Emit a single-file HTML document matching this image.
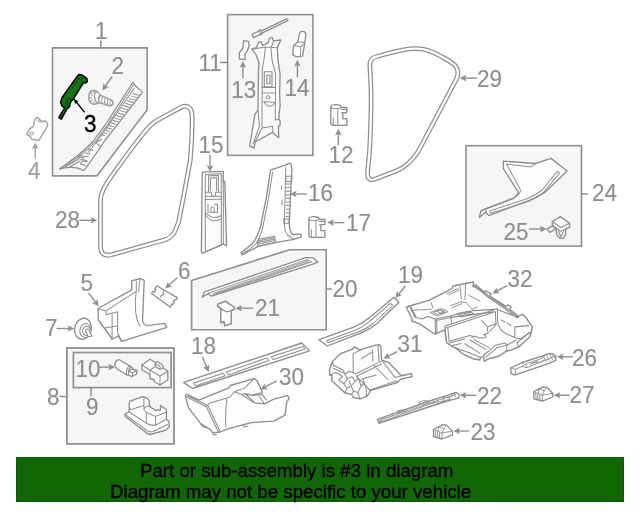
<!DOCTYPE html>
<html><head><meta charset="utf-8"><title>Diagram</title>
<style>
html,body{margin:0;padding:0;background:#fff;}
body{width:640px;height:512px;overflow:hidden;position:relative;font-family:"Liberation Sans",sans-serif;}
svg{position:absolute;left:0;top:0;will-change:transform;}
svg text{font-family:"Liberation Sans",sans-serif;}
.banner{position:absolute;left:16px;top:456.8px;width:608px;height:45px;background:#116706;box-shadow:inset 0 0 0 1px #0c5c04;}
.banner div{position:absolute;will-change:transform;white-space:nowrap;font-size:18.68px;line-height:20.5px;color:#000;-webkit-text-stroke:0.35px #000;}
</style></head><body>
<svg width="640" height="512" viewBox="0 0 640 512" fill="none" stroke-linejoin="round" stroke-linecap="round">
<path d="M52.5 47.9L147.1 47.9L147.1 110L96.8 175.9L52.5 175.9Z" fill="#f6f6f6" stroke="#909090" stroke-width="1.6" stroke-linejoin="miter"/>
<rect x="227.6" y="14.6" width="85.29999999999998" height="140.8" fill="#f6f6f6" stroke="#909090" stroke-width="1.6" stroke-linejoin="miter"/>
<rect x="466" y="145.7" width="115.5" height="100.4" fill="#f6f6f6" stroke="#909090" stroke-width="1.6" stroke-linejoin="miter"/>
<path d="M191.6 280.5L289.5 249.8L326.2 249.8L326.2 329.7L191.6 329.7Z" fill="#f6f6f6" stroke="#909090" stroke-width="1.6" stroke-linejoin="miter"/>
<rect x="66.9" y="348" width="107.1" height="95.89999999999998" fill="#f6f6f6" stroke="#909090" stroke-width="1.8" stroke-linejoin="miter"/>
<rect x="73.4" y="352.5" width="97.69999999999999" height="35.10000000000002" fill="#f6f6f6" stroke="#909090" stroke-width="1.7" stroke-linejoin="miter"/>
<text transform="translate(94.90 39.15) scale(1 1.03)" fill="#8e8e8e" stroke="#8e8e8e" stroke-width="0.15" font-size="22.5">1</text>
<text transform="translate(111.50 74.35) scale(1 1.03)" fill="#8e8e8e" stroke="#8e8e8e" stroke-width="0.15" font-size="22.5">2</text>
<text transform="translate(84.00 131.85) scale(1 1.03)" fill="#000" stroke="#000" stroke-width="0.4" font-size="22.5">3</text>
<text transform="translate(28.00 179.35) scale(1 1.03)" fill="#a0a0a0" stroke="#a0a0a0" stroke-width="0.15" font-size="22.5">4</text>
<text transform="translate(198.50 70.55) scale(1 1.03)" fill="#8e8e8e" stroke="#8e8e8e" stroke-width="0.15" font-size="22.5">11</text>
<text transform="translate(231.20 97.75) scale(1 1.03)" fill="#8e8e8e" stroke="#8e8e8e" stroke-width="0.15" font-size="22.5">13</text>
<text transform="translate(284.50 96.05) scale(1 1.03)" fill="#8e8e8e" stroke="#8e8e8e" stroke-width="0.15" font-size="22.5">14</text>
<text transform="translate(328.50 162.85) scale(1 1.03)" fill="#8e8e8e" stroke="#8e8e8e" stroke-width="0.15" font-size="22.5">12</text>
<text transform="translate(198.50 152.55) scale(1 1.03)" fill="#8e8e8e" stroke="#8e8e8e" stroke-width="0.15" font-size="22.5">15</text>
<text transform="translate(308.00 201.35) scale(1 1.03)" fill="#8e8e8e" stroke="#8e8e8e" stroke-width="0.15" font-size="22.5">16</text>
<text transform="translate(346.00 231.05) scale(1 1.03)" fill="#8e8e8e" stroke="#8e8e8e" stroke-width="0.15" font-size="22.5">17</text>
<text transform="translate(477.00 87.15) scale(1 1.03)" fill="#8e8e8e" stroke="#8e8e8e" stroke-width="0.15" font-size="22.5">29</text>
<text transform="translate(592.00 201.05) scale(1 1.03)" fill="#8e8e8e" stroke="#8e8e8e" stroke-width="0.15" font-size="22.5">24</text>
<text transform="translate(503.50 240.35) scale(1 1.03)" fill="#8e8e8e" stroke="#8e8e8e" stroke-width="0.15" font-size="22.5">25</text>
<text transform="translate(55.00 228.35) scale(1 1.03)" fill="#8e8e8e" stroke="#8e8e8e" stroke-width="0.15" font-size="22.5">28</text>
<text transform="translate(80.50 290.85) scale(1 1.03)" fill="#8e8e8e" stroke="#8e8e8e" stroke-width="0.15" font-size="22.5">5</text>
<text transform="translate(178.00 278.55) scale(1 1.03)" fill="#8e8e8e" stroke="#8e8e8e" stroke-width="0.15" font-size="22.5">6</text>
<text transform="translate(45.00 336.35) scale(1 1.03)" fill="#8e8e8e" stroke="#8e8e8e" stroke-width="0.15" font-size="22.5">7</text>
<text transform="translate(75.50 376.55) scale(1 1.03)" fill="#8e8e8e" stroke="#8e8e8e" stroke-width="0.15" font-size="22.5">10</text>
<text transform="translate(47.00 404.55) scale(1 1.03)" fill="#8e8e8e" stroke="#8e8e8e" stroke-width="0.15" font-size="22.5">8</text>
<text transform="translate(86.00 415.35) scale(1 1.03)" fill="#8e8e8e" stroke="#8e8e8e" stroke-width="0.15" font-size="22.5">9</text>
<text transform="translate(191.00 354.05) scale(1 1.03)" fill="#8e8e8e" stroke="#8e8e8e" stroke-width="0.15" font-size="22.5">18</text>
<text transform="translate(279.00 385.35) scale(1 1.03)" fill="#8e8e8e" stroke="#8e8e8e" stroke-width="0.15" font-size="22.5">30</text>
<text transform="translate(332.50 296.85) scale(1 1.03)" fill="#8e8e8e" stroke="#8e8e8e" stroke-width="0.15" font-size="22.5">20</text>
<text transform="translate(398.00 283.05) scale(1 1.03)" fill="#8e8e8e" stroke="#8e8e8e" stroke-width="0.15" font-size="22.5">19</text>
<text transform="translate(397.50 351.85) scale(1 1.03)" fill="#8e8e8e" stroke="#8e8e8e" stroke-width="0.15" font-size="22.5">31</text>
<text transform="translate(255.00 316.05) scale(1 1.03)" fill="#8e8e8e" stroke="#8e8e8e" stroke-width="0.15" font-size="22.5">21</text>
<text transform="translate(507.50 286.55) scale(1 1.03)" fill="#8e8e8e" stroke="#8e8e8e" stroke-width="0.15" font-size="22.5">32</text>
<text transform="translate(572.00 365.85) scale(1 1.03)" fill="#8e8e8e" stroke="#8e8e8e" stroke-width="0.15" font-size="22.5">26</text>
<text transform="translate(569.50 403.35) scale(1 1.03)" fill="#8e8e8e" stroke="#8e8e8e" stroke-width="0.15" font-size="22.5">27</text>
<text transform="translate(477.00 404.35) scale(1 1.03)" fill="#8e8e8e" stroke="#8e8e8e" stroke-width="0.15" font-size="22.5">22</text>
<text transform="translate(470.50 440.05) scale(1 1.03)" fill="#8e8e8e" stroke="#8e8e8e" stroke-width="0.15" font-size="22.5">23</text>
<path d="M79.4 74.4L82.5 75.3L86.8 78.3L87.3 81.8L85.2 82.9L83 83.3L73.3 99L70.3 102.6L69.5 106.6L67 109L61.3 119.1L58.8 117.6L64.6 108L62 105.9L60.6 102.4L61.8 98L76.9 76.6Z" fill="#157515" stroke="#000" stroke-width="1.5"/>
<path d="M78.5 78.5L81.5 79.8L83 83.3M81.5 79.8L82.7 76.2M78.5 78.5L72.5 87.5M67.6 108.2L67.2 101.5Q66.5 98.5 69 98Q71.5 98 70.3 102.6M64.6 108L66.2 101" stroke="#053805" stroke-width="0.9"/>
<path d="M84.6 112.4L76.2 101.9" stroke="#000" stroke-width="1.5" fill="none" stroke-linecap="butt"/>
<path d="M73.6 98.6L78.9 101.4L76.2 101.9L75.2 104.4Z" fill="#000"/>
<path d="M112.1 76.5L105.4 86.1" stroke="#8e8e8e" stroke-width="1.4" fill="none" stroke-linecap="butt"/>
<path d="M102.3 90.4L103.4 83.1L105.4 86.1L108.8 86.9Z" fill="#8e8e8e"/>
<path d="M89.2 93.5Q91 89.8 94.5 90.6L97 91.5L98 95.5L97.5 103.5L93.5 104.2Q89.5 103.5 88.8 99Z" stroke="#a0a0a0" stroke-width="1.57" fill="#fff"/>
<path d="M90.8 92L92.2 95.5M93.8 90.6L94.4 94M89 97L91.6 98M90 101.8L92.2 100.2M93.6 104L94.2 101" stroke="#a0a0a0" stroke-width="1.12" fill="none"/>
<ellipse cx="97.8" cy="97.6" rx="3.1" ry="5.6" transform="rotate(-14 97.8 97.6)" fill="#fff" stroke="#a0a0a0" stroke-width="1.4"/>
<path d="M99.8 95L110.6 99.6Q113.8 101.3 112.8 103.9Q111.8 106.2 108.5 105.4L99 102.6Q97.6 98.6 99.8 95Z" stroke="#a0a0a0" stroke-width="1.57" fill="#fff"/>
<path d="M102.6 96.6Q101.3 99.8 101.9 103.2M105.4 97.8Q104.1 101 104.7 104.1M108.1 99Q106.9 102 107.5 104.9M110.6 100.3Q109.7 103 110.2 105.4" stroke="#a0a0a0" stroke-width="1.12" fill="none"/>
<path d="M59.5 169.1L77 156Q87 148 93.3 141L107 122.3L132.1 83.5L133 82.3Q135 86.5 142.6 92L141.9 93.2L104.5 141L97 152.3L84.6 169.8L83.2 170.3Q78 167 70 167.3Q64 167.6 59.5 169.1Z" stroke="#8d8d8d" stroke-width="1.23" fill="#fbfbfb"/>
<path d="M62.5 168.3L79 156.5Q88.5 149 94.8 142L108.5 123.5L133.6 84.8" stroke="#8d8d8d" stroke-width="1.01" fill="none"/>
<path d="M134.2 88.3L102.8 133.5L96 142.5L88.5 152" stroke="#8d8d8d" stroke-width="1.01" fill="none"/>
<path d="M140.2 95.2Q136.7 95.0 133.2 93.5M138.2 97.6Q134.7 97.4 131.3 95.9M136.1 100.1Q132.8 99.9 129.5 98.4M134.1 102.5Q130.9 102.3 127.7 100.8M132.0 104.9Q128.9 104.7 125.8 103.2M130.0 107.3Q127.0 107.1 124.0 105.7M127.9 109.7Q125.0 109.5 122.2 108.1M125.9 112.1Q123.1 111.9 120.3 110.6M123.9 114.5Q121.2 114.3 118.5 113.0M121.8 116.9Q119.2 116.7 116.7 115.5M119.8 119.3Q117.3 119.1 114.8 117.9M117.7 121.7Q115.4 121.5 113.0 120.3M115.7 124.1Q113.4 123.9 111.2 122.8M113.6 126.6Q111.5 126.4 109.3 125.2M111.6 129.0Q109.5 128.8 107.5 127.7M109.5 131.4Q107.6 131.2 105.7 130.1M107.5 133.8Q105.7 133.6 103.8 132.6" stroke="#8d8d8d" stroke-width="1.01" fill="none"/>
<path d="M104.5 135.5L100.5 134.5M101.5 139.5L96 142.5M96 142.5Q97.5 145 100.5 146M93 150.5L88.5 149.5M90.5 154L85.5 153M88.5 157L79.5 155.5L78.5 158.5L86.5 160.5M80 157L84 158M87.5 161.5L82 161L80.5 164L85.5 165.5M66 166.5L78 159.5M70 166.8L80 161" stroke="#8d8d8d" stroke-width="1.01" fill="none"/>
<path d="M36.2 117.8Q37.5 117.3 38.5 118.3L41.8 121.6L45.1 121.1Q46.8 121.5 47.7 125.3L38.8 140.6L31.5 138.9L30.1 136.3L27.1 134.8Q26.8 133 27.7 131.9L30.5 128.2L33.3 126.7L34.3 121.1Z" stroke="#a8a8a8" stroke-width="1.57" fill="#fff"/>
<ellipse cx="31.6" cy="133.4" rx="2" ry="1.4" stroke="#a8a8a8" stroke-width="1.1" fill="#fff"/>
<path d="M38.3 119.5Q37.8 121.8 40.6 121.9" stroke="#a8a8a8" stroke-width="1.12" fill="none"/>
<path d="M35.2 158.5L35.2 147.7" stroke="#a0a0a0" stroke-width="1.4" fill="none" stroke-linecap="butt"/>
<path d="M35.2 142.4L38.5 149.0L35.2 147.7L31.9 149.0Z" fill="#a0a0a0"/>
<path d="M100.9 41L100.9 47.9" stroke="#8e8e8e" stroke-width="1.57" fill="none"/>
<path d="M220.5 62.6L227 62.6" stroke="#8e8e8e" stroke-width="1.46" fill="none"/>
<path d="M582 194L587.5 194" stroke="#8e8e8e" stroke-width="1.46" fill="none"/>
<path d="M327 289L331.5 289" stroke="#8e8e8e" stroke-width="1.46" fill="none"/>
<path d="M60 396.5L66.8 396.5" stroke="#8e8e8e" stroke-width="1.46" fill="none"/>
<path d="M91 388L91 396" stroke="#8e8e8e" stroke-width="1.46" fill="none"/>
<path d="M100.5 200L100.5 246Q100.5 256.8 110.5 255L163 240.3Q172.5 238 175.7 229.5L178.7 221.5Q185 190 190.3 160Q192 140 192.2 122L192.2 118Q192.2 111.5 190 108.5Q186.5 104.5 181 107.3L156 121Q150 125 144 132.7Q133 146 111.8 175.8Q100.5 191 100.5 200Z" stroke="#8f8f8f" stroke-width="4.8" fill="none"/>
<path d="M100.5 200L100.5 246Q100.5 256.8 110.5 255L163 240.3Q172.5 238 175.7 229.5L178.7 221.5Q185 190 190.3 160Q192 140 192.2 122L192.2 118Q192.2 111.5 190 108.5Q186.5 104.5 181 107.3L156 121Q150 125 144 132.7Q133 146 111.8 175.8Q100.5 191 100.5 200Z" stroke="#fff" stroke-width="2.3" fill="none"/>
<path d="M369.9 66Q371.3 90 371.1 105Q370.7 130 369.6 150L367.6 172Q367 181.5 374 179.5L396 171Q409 166 418.5 151L443 104.5L456 79.8Q458.4 75 457.8 71.6Q457.2 67.5 454.5 64.8Q449 60.5 442.3 57Q432 51 424 49.3Q418 48.3 413 48.6Q400 49.5 377 56.5Q369.3 58 369.9 66Z" stroke="#8f8f8f" stroke-width="4.8" fill="none"/>
<path d="M369.9 66Q371.3 90 371.1 105Q370.7 130 369.6 150L367.6 172Q367 181.5 374 179.5L396 171Q409 166 418.5 151L443 104.5L456 79.8Q458.4 75 457.8 71.6Q457.2 67.5 454.5 64.8Q449 60.5 442.3 57Q432 51 424 49.3Q418 48.3 413 48.6Q400 49.5 377 56.5Q369.3 58 369.9 66Z" stroke="#fff" stroke-width="2.3" fill="none"/>
<path d="M79.3 220.3L91.9 220.3" stroke="#8e8e8e" stroke-width="1.4" fill="none" stroke-linecap="butt"/>
<path d="M97.2 220.3L90.6 223.6L91.9 220.3L90.6 217.0Z" fill="#8e8e8e"/>
<path d="M477.0 78.1L465.0 78.1" stroke="#8e8e8e" stroke-width="1.4" fill="none" stroke-linecap="butt"/>
<path d="M459.7 78.1L466.3 74.8L465.0 78.1L466.3 81.4Z" fill="#8e8e8e"/>
<path d="M253.4 37.6L252 34.4L258.4 31.4L259.2 30.4L260.8 30L261.6 30.8L286.6 18.9L287.9 20.7L262.4 32.9L262.1 34L260.5 34.8L259.6 34.6Z" stroke="#8d8d8d" stroke-width="1.34" fill="#fff"/>
<path d="M259.2 30.6L260.4 34.6M260.8 30.2L262 33.8" stroke="#8d8d8d" stroke-width="1.01" fill="none"/>
<path d="M243.6 40.7L248.5 41.4L249.2 45.6L247.1 51.3L245 54.1L245 59.7L239.4 59L239.4 52.7L242.9 48.5Z" stroke="#8d8d8d" stroke-width="1.34" fill="#fff"/>
<path d="M242.9 78.0L242.9 66.5" stroke="#8e8e8e" stroke-width="1.4" fill="none" stroke-linecap="butt"/>
<path d="M242.9 61.2L246.2 67.8L242.9 66.5L239.6 67.8Z" fill="#8e8e8e"/>
<path d="M299.8 32.3Q302 30.8 304 31.6Q306.2 33 305.9 35.1L302.6 56.2L296.3 56.9L292.8 54.8L293.5 45.6L297.7 42.1Z" stroke="#8d8d8d" stroke-width="1.34" fill="#fff"/>
<path d="M293.5 45.6L300.8 46.8L304 43.5M300.8 46.8L300.3 56.4M297.7 42.1L304.3 42.3" stroke="#8d8d8d" stroke-width="1.01" fill="none"/>
<path d="M297.4 77.3L297.4 65.1" stroke="#8e8e8e" stroke-width="1.4" fill="none" stroke-linecap="butt"/>
<path d="M297.4 59.8L300.7 66.4L297.4 65.1L294.1 66.4Z" fill="#8e8e8e"/>
<path d="M252 49.2L256.6 47.3L258.4 42.3L261 41.6L262.6 45.4L267.8 43.2L269.6 38.1L272.2 37.4L273.6 40.9L280.8 40L277.3 47.8L278 60.4L280.1 74.5L279.6 92.9L280.1 105.2L278.7 119.2L280.1 121L280.1 125.4L278.4 126.2L278.7 137.7L272.6 132.4L255 142L254.1 148.2L249.7 145.6L255 114L258 110.4L258.5 70L259 63.2L256.2 54.8Z" stroke="#8d8d8d" stroke-width="1.34" fill="#fafafa"/>
<path d="M265.4 47L264.2 58L262.2 70L262 128L272.6 126.2L272.6 132.4M262 128L255 142M273.8 40.7L271 48L272 60L275.6 74L275.2 120L278.7 119.2M252 49.2L265.4 47L277.3 47.8M262 87.6L275.2 87.6M263.8 101.6Q269 110.5 275.2 102.5M263.8 101.6L275.2 102.5M262 93L275.4 93M258 110.4L259.5 126L253 144" stroke="#8d8d8d" stroke-width="1.01" fill="none"/>
<path d="M264.3 71.7L272 71.7L272 86.7L264.3 86.7ZM266.8 75L270 75L270 83.7L266.8 83.7Z" stroke="#8d8d8d" stroke-width="1.12" fill="none"/>
<circle cx="268.2" cy="97.2" r="1.7" stroke="#8d8d8d" stroke-width="0.9" fill="none"/>
<path d="M202.2 172.1L223.3 171.3L223.3 181.5L224.8 181.5L226.6 246L223.3 244L202.2 253.4L201.4 251.8Z" stroke="#8d8d8d" stroke-width="1.34" fill="#fbfbfb"/>
<path d="M223.3 181.5L223.3 244M205.3 174.6L221.3 173.7L221.3 245.2L205.3 251.8ZM208.6 175.8L218.4 175.5L218.4 192.2L215.6 192.2L215.6 196L211.4 196L211.4 192.2L208.6 192.2ZM210.4 178L216.6 177.8L216.6 190.5M210.4 178L210.4 190.5M205.3 192.2L208.6 192.2M218.4 192.2L221.3 192.2M205.3 196.5L221.3 196M205.3 199.5L221.3 199M205.3 214.7Q212 224.5 221.3 218.6M205.3 212Q212 221 221.3 215.5M208 204L208 212L217.5 212.5L217.5 204M211 212L211 207.5Q213 206 214.2 208L214.2 212M214.5 205Q216 203 217.3 205" stroke="#8d8d8d" stroke-width="1.01" fill="none"/>
<path d="M210.0 155.0L210.0 166.5" stroke="#8e8e8e" stroke-width="1.4" fill="none" stroke-linecap="butt"/>
<path d="M210.0 171.8L206.7 165.2L210.0 166.5L213.3 165.2Z" fill="#8e8e8e"/>
<path d="M270.5 170.2L290.8 163.1L291.9 168.2L289.2 223Q289.5 231 292.5 234.3L301 234.2L301.4 236.8L293.9 239.3L276.6 242.3L258.3 246.4L242.1 254.9L241.1 252.5Q250 246.5 254.3 241.3Q258 235 260.4 227.1L266.5 196.6Z" stroke="#8d8d8d" stroke-width="1.34" fill="#fdfdfd"/>
<path d="M272.6 172.3L268.5 198.7L262.4 229.1Q260 237.5 256.3 243.3Q250 250 242.5 253.8M285.8 167.2L284.3 225Q285 231.5 287.5 235L293.9 239.3M258.3 239.3L274.6 236.2L275.6 242.3L257.3 246.6ZM258 241L274.8 237.6M257.8 242.6L275 239M257.6 244.2L275.3 240.5M285.8 176.3L291.9 176.3L291.9 181.4L285.8 181.4ZM283.7 219L289.2 219L289.2 223.2L283.7 223.2Z" stroke="#8d8d8d" stroke-width="1.01" fill="none"/>
<path d="M286.3 184.0L290 184.0M286.3 187.6L290 187.6M286.3 191.2L290 191.2M286.3 194.8L290 194.8M286.3 198.4L290 198.4M286.3 202.0L290 202.0M286.3 205.6L290 205.6M286.3 209.2L290 209.2M286.3 212.8L290 212.8M286.3 216.4L290 216.4M282 200L282 205M281.5 186L281.5 189" stroke="#8d8d8d" stroke-width="1.01" fill="none"/>
<path d="M307.0 194.0L295.3 194.0" stroke="#8e8e8e" stroke-width="1.4" fill="none" stroke-linecap="butt"/>
<path d="M290.0 194.0L296.6 190.7L295.3 194.0L296.6 197.3Z" fill="#8e8e8e"/>
<path d="M330.8 106.7L330.8 124.3L332.3 125.3L346.8 125.3L346.8 118.7L342.8 118.7L342.8 112.7L346.8 112.7L346.8 107.5L341.2 107.5Q341.2 104.7 336.0 104.7Q330.8 104.7 330.8 106.7Z" stroke="#8d8d8d" stroke-width="1.34" fill="#fff"/>
<path d="M330.8 106.7Q330.8 108.7 336.0 108.7Q341.2 108.7 341.2 107.1M337.8 108.7L337.8 125.3M333.2 117.7L333.2 125.3M341.2 109.5L346.8 109.5M342.8 112.7L341.2 112.7" stroke="#8d8d8d" stroke-width="1.01" fill="none"/>
<path d="M308.9 218.7L308.9 236.3L310.4 237.3L324.9 237.3L324.9 230.7L320.9 230.7L320.9 224.7L324.9 224.7L324.9 219.5L319.3 219.5Q319.3 216.7 314.1 216.7Q308.9 216.7 308.9 218.7Z" stroke="#8d8d8d" stroke-width="1.34" fill="#fff"/>
<path d="M308.9 218.7Q308.9 220.7 314.1 220.7Q319.3 220.7 319.3 219.1M315.9 220.7L315.9 237.3M311.3 229.7L311.3 237.3M319.3 221.5L324.9 221.5M320.9 224.7L319.3 224.7" stroke="#8d8d8d" stroke-width="1.01" fill="none"/>
<path d="M338.3 145.5L338.3 134.1" stroke="#8e8e8e" stroke-width="1.4" fill="none" stroke-linecap="butt"/>
<path d="M338.3 128.8L341.6 135.4L338.3 134.1L335.0 135.4Z" fill="#8e8e8e"/>
<path d="M344.5 222.6L332.5 222.6" stroke="#8e8e8e" stroke-width="1.4" fill="none" stroke-linecap="butt"/>
<path d="M327.2 222.6L333.8 219.3L332.5 222.6L333.8 225.9Z" fill="#8e8e8e"/>
<path d="M503.4 161.2L535.6 163.5L551 158.4L567.1 171L545 192.2Q538 197 530 200.2L488.7 215.6L485.9 211.8L479.4 217.5L480.9 210.9L513.1 198.7Q517 196 518.4 192.2L503.4 168.7Z" stroke="#8d8d8d" stroke-width="1.34" fill="#fdfdfd"/>
<path d="M506.5 164L530.9 166.9L535.6 163.5M506.5 164L520.6 190.3Q520 194.5 515.9 196.9L485.9 208.5L480.9 210.9M485.9 208.5L485.9 211.8M489.7 210.9L526.2 199.1Q536 195 542 190L557.1 171.5L559.6 172.9L544 192Q537 198 528.1 201.5L491 213.3Z" stroke="#8d8d8d" stroke-width="1.01" fill="none"/>
<path d="M552.3 221.6L560.3 216.6L569.6 223.3L569.6 227L565.6 229.3L565.6 234.6L563.3 238.2L560 238.2L556.6 234.6L556.3 230.2L555.3 229.3L550 232.3L546.8 229L552.6 226Z" stroke="#939393" stroke-width="1.46" fill="#fff"/>
<path d="M552.3 221.6L560.6 227.6L569.6 223.3M552.6 225.2L560.6 231.3L569.6 227M552.6 226L556 229.3M558.3 231.3L561 236.6L563.6 231.3" stroke="#939393" stroke-width="1.23" fill="none"/>
<path d="M529.0 229.0L541.3 229.0" stroke="#8e8e8e" stroke-width="1.4" fill="none" stroke-linecap="butt"/>
<path d="M546.6 229.0L540.0 232.3L541.3 229.0L540.0 225.7Z" fill="#8e8e8e"/>
<path d="M98.1 308.5L131.7 289.8L131.7 280.9L140.3 278.5L144.2 280.4L142.6 320.3Q143 324.5 146.5 325.7L164.5 323.4L166.8 327.3L121.5 341.3L118.4 335.9L112.1 339L98.1 319.5Z" stroke="#8d8d8d" stroke-width="1.34" fill="#fff"/>
<path d="M105.9 310.9L136.3 291.3L136.3 281.2M136.3 291.3Q134.5 301 135.6 310.9Q136.5 321 140.3 326.5M105.9 310.9L105.9 314.8L117.6 311.7L117.6 332.8L121.5 341.3M112.1 313.2L112.1 339M104.3 328L117.6 325.7M140.3 278.5Q138.5 286 138.8 292M98.1 308.5L105.9 310.9" stroke="#8d8d8d" stroke-width="1.01" fill="none"/>
<path d="M88.7 292.9L95.5 302.0" stroke="#8e8e8e" stroke-width="1.4" fill="none" stroke-linecap="butt"/>
<path d="M98.6 306.3L92.0 303.0L95.5 302.0L97.3 299.0Z" fill="#8e8e8e"/>
<path d="M156.9 285.8L177.5 297.9L175.8 300.2L174.6 299.6L173.2 301.6L174.4 302.4L172.8 304.6L171.6 303.9L170.6 307.3L151.5 293.5L153.2 291.2L154.4 292L155.8 289.9L154.6 289.2Z" stroke="#8d8d8d" stroke-width="1.23" fill="#fff"/>
<path d="M163.8 290.4L162.8 292.6L164 293.4L162.6 295.4L161.4 294.8L160.6 297.3" stroke="#8d8d8d" stroke-width="1.01" fill="none"/>
<path d="M177.5 277.5L169.1 285.0" stroke="#8e8e8e" stroke-width="1.4" fill="none" stroke-linecap="butt"/>
<path d="M165.2 288.6L167.9 281.7L169.1 285.0L172.3 286.6Z" fill="#8e8e8e"/>
<ellipse cx="83" cy="328.8" rx="8.3" ry="10.6" transform="rotate(12 83 328.8)" fill="#fff" stroke="#8d8d8d" stroke-width="1.3"/>
<path d="M86 337.5Q80 337 79.8 331Q80.5 324 86 323.5Q91 324 91.2 330" stroke="#8d8d8d" stroke-width="1.01" fill="none"/>
<path d="M87 335.5Q82.5 335 82.6 331Q83 326.5 87 326.3Q89.5 326.5 90 329" stroke="#8d8d8d" stroke-width="1.01" fill="none"/>
<path d="M86.8 333.2Q84.8 331.5 86 329.6Q87.5 328.5 89 329.8L92 336.3L87.8 336.5Z" stroke="#8d8d8d" stroke-width="1.12" fill="#fff"/>
<path d="M56.5 328.5L68.9 328.5" stroke="#8e8e8e" stroke-width="1.4" fill="none" stroke-linecap="butt"/>
<path d="M74.2 328.5L67.6 331.8L68.9 328.5L67.6 325.2Z" fill="#8e8e8e"/>
<path d="M119.5 359.8L131.5 367L132.5 369L136.8 370.5L136.8 374L131.5 376.5L128.5 375L126.5 374.8L117 369Q113.5 364.5 116 361.5Q117.5 359.5 119.5 359.8Z" stroke="#8d8d8d" stroke-width="1.34" fill="#fff"/>
<path d="M128.5 371.5L132.5 369M128.5 371.5L128.5 375M128.5 371.5L132.5 372.8L136.8 370.5M132.5 372.8L132.5 376M129.5 366Q126 368 126.5 374.8M131.5 367Q128 369.5 128.5 371.5" stroke="#8d8d8d" stroke-width="1.01" fill="none"/>
<path d="M98.5 367.1L109.7 367.1" stroke="#8e8e8e" stroke-width="1.4" fill="none" stroke-linecap="butt"/>
<path d="M115.0 367.1L108.4 370.4L109.7 367.1L108.4 363.8Z" fill="#8e8e8e"/>
<path d="M142 365L150 359.2L155.5 362.5L157.5 361.5L163 365.5L163 368L167.8 371L167.8 380L160 385L154 381.5L154 379.5L150 378.5L150 374.5L142 370Z" stroke="#8d8d8d" stroke-width="1.34" fill="#fff"/>
<path d="M142 365L150 370L155.5 366.5M150 370L150 374.5M150 370L160 376L167.8 371M160 376L160 385M155.5 362.5L155.5 366.5L160 369.5L163 368" stroke="#8d8d8d" stroke-width="1.01" fill="none"/>
<path d="M154.5 364.8Q155.2 363.5 156.5 364L160 366.5Q160.6 367.6 159.8 368.4" stroke="#8d8d8d" stroke-width="1.01" fill="none"/>
<path d="M124.8 414L129.2 412L129.2 403.2L130.2 401.2L142.9 396.6L147.3 398.3L149.3 400.8L149.3 406.1L155.6 410.5L160.5 410L160.5 405.6L166.4 409.5L166.4 419.3L169 421.3L169.3 426.7L165.9 430.1L150.3 434.5L147.3 433.5L125.3 416.4Z" stroke="#8d8d8d" stroke-width="1.34" fill="#fff"/>
<path d="M129.2 412L146.3 423.2Q151 426 155.6 425.2L166.4 419.3M143.9 397.3L143.9 409.5M131.2 409.5L143.9 405.5M143.9 409.5Q145 406 149.3 406.1M146.3 412.5L146.3 423.2M146.3 412.5L155.6 416.4L155.6 425.2M155.6 416.4L166.4 412M143.9 409.5L146.3 412.5M129.2 408.5L131.2 409.5M126 414.8L147.5 431Q150 432.5 153 431.5L167.5 424.5" stroke="#8d8d8d" stroke-width="1.01" fill="none"/>
<path d="M202.3 297.2L204.5 291.8L306 257.6L312.5 257.6L318 262.2L311.4 264.6L211.3 296.2L208.4 293.2Z" stroke="#8d8d8d" stroke-width="1.34" fill="#fdfdfd"/>
<path d="M208.4 293.2L308.5 259.2M213 293.6L308.1 260.6L311.8 261.8L214.2 295Z M216 293.6L308.5 262" stroke="#8d8d8d" stroke-width="0.90" fill="none"/>
<path d="M217.6 304.2L225.5 301.3L234.4 307.4L234.4 309.3L231.2 310.7L231.2 323.8L224.6 325.7L224.1 321.5L220.8 322.9L220.8 308.8L217.6 306Z" stroke="#8d8d8d" stroke-width="1.46" fill="#fff"/>
<path d="M217.6 306L226.9 312.1L234.4 309.3M220.8 308.8L226.9 312.1" stroke="#8d8d8d" stroke-width="1.12" fill="none"/>
<path d="M253.0 308.2L240.7 308.2" stroke="#8e8e8e" stroke-width="1.4" fill="none" stroke-linecap="butt"/>
<path d="M235.4 308.2L242.0 304.9L240.7 308.2L242.0 311.5Z" fill="#8e8e8e"/>
<path d="M183.7 382.4L301.8 343L309.5 350.9L192.4 388.5Z" stroke="#8d8d8d" stroke-width="1.34" fill="#fdfdfd"/>
<path d="M193.5 383L223 373.2L225.2 375.8L195.7 385.9ZM226.3 372.1L266.8 357.9L269 360.5L228.5 375ZM271.2 356.8L302.9 346.5L305.1 349.1L273.4 359.6Z" stroke="#8d8d8d" stroke-width="1.01" fill="none"/>
<path d="M202.3 356.8L206.6 367.1" stroke="#8e8e8e" stroke-width="1.4" fill="none" stroke-linecap="butt"/>
<path d="M208.7 372.0L203.1 367.2L206.6 367.1L209.2 364.6Z" fill="#8e8e8e"/>
<path d="M185.3 395.4L186.6 394.1L198.8 400.1L228.8 387.9L230.3 385.5L254.1 378.6L256.9 380.4L262.5 392.6L252.2 395.4L244.7 393.6L255 402.9L264.4 403.9L273.8 399.2L287.8 395.4L289.1 399.2L286.9 401.1L285 415.1L273.8 421.1L251.3 422.6L226.9 429.2L220.3 432L212.8 432.9L210.9 430.1L200.6 423.6L188.4 407.6Z" stroke="#8d8d8d" stroke-width="1.34" fill="#fdfdfd"/>
<path d="M186 396.5L206.3 406.7L218.4 432M188.5 396L208 405.8L220 431.5M206.3 406.7L210 402.9L229.7 397.3L234.4 391.7L244.7 387.9L254.1 378.6M234.4 391.7L241.9 394.5L244.7 393.6M241.9 394.5L249.4 400.1L255 402.9M226.9 399.2Q225 412 225.9 426.4M252.2 395.4L262.5 394.6L266.3 400.1M256 393.5L260.5 398L264.4 403.9M200.6 423.6L203 427L206 427.5M212.8 432.9L213.5 435L216.5 434.5M243 424.8L244 427L248 426" stroke="#8d8d8d" stroke-width="1.01" fill="none"/>
<path d="M276.6 380.8L265.1 387.0" stroke="#8e8e8e" stroke-width="1.4" fill="none" stroke-linecap="butt"/>
<path d="M260.4 389.5L264.7 383.5L265.1 387.0L267.8 389.3Z" fill="#8e8e8e"/>
<path d="M319 339.7L353 327.3Q362 324 369 318L394 297.3L398.8 302.5L377 323.5Q370 329.5 362 332.5L327.3 346Z" stroke="#8d8d8d" stroke-width="1.34" fill="#fff"/>
<path d="M326.5 340.8L355 330.2Q363.5 327 370 321L390.3 303.3L392.8 305.5L373 323.5Q366.5 329 359 331.5L328 342.7Z" stroke="#8d8d8d" stroke-width="1.01" fill="none"/>
<path d="M405.3 286.0L398.8 294.0" stroke="#8e8e8e" stroke-width="1.4" fill="none" stroke-linecap="butt"/>
<path d="M395.4 298.1L397.0 290.9L398.8 294.0L402.1 295.1Z" fill="#8e8e8e"/>
<path d="M329.4 370L332.2 362.1L333.9 359.9L340.7 353.6L352.6 349.1L354.3 346.8L360 350.2L362.2 349.1L375.8 345.1L379.2 344.6L380.9 346.8L381.5 360L388.8 362.6L401.3 375.8L411.4 373.5L412.2 376.6L401.3 379L396.6 382.9L370 390.7L369.6 392.7L366.2 396.7L360 398.9L353.2 397.2L351.5 394.4L344.7 392.7L340.7 388.7L331.7 380.8L332 375.5L330 375.1Z" stroke="#8d8d8d" stroke-width="1.40" fill="#fdfdfd"/>
<path d="M353.2 353.6L353.2 372.3M353.2 353.6L360 350.2M355.4 374L380.4 361.6M356.6 376.3L381.5 364M353.2 372.3L355.4 374M361.1 358.7L371.3 352.5M372.4 349.7L373 361M378 345.2L379 361.8M356.6 376.3L369.6 389.9L396.6 381M381.5 360L395 377.4L401.3 375.8M374 365.5L388 379.5M362 379L376 375M369.6 389.9L370 390.7" stroke="#8d8d8d" stroke-width="1.06" fill="none"/>
<path d="M333.9 365.5L343 370L344.7 374M333.3 368.3L343 373M330 375.1L336 372.5L342.5 376.5L338.5 379.8L344 384M332.2 362.1L334 366M344.7 374L349 371.5L353.2 372.3M344.7 374L347.5 379L344 384L347 388.5L344.7 392.7M347.5 379L352 376.5L355 381.5L351 386L353.5 391L351.5 394.4M355 381.5L358.5 378.5L361 386L358 392.5L360 398.9M361 386L364.5 383L366.5 390L366.2 396.7M358.5 378.5L356.6 376.3M364.5 383L363 379.5M347 388.5L351 386M353.5 391L358 392.5M349.5 381L350.5 384.5M341 381.5L344 384" stroke="#8d8d8d" stroke-width="1.01" fill="none"/>
<path d="M397.3 351.6L388.2 356.2" stroke="#8e8e8e" stroke-width="1.4" fill="none" stroke-linecap="butt"/>
<path d="M383.5 358.6L387.9 352.7L388.2 356.2L390.9 358.6Z" fill="#8e8e8e"/>
<path d="M406.3 307.3L409.4 306L428.8 300.4L441.3 294.1L451.9 288.5L453.1 286L473.1 282L473.7 284.3L472.5 286L483.5 291.9L486 291L491 293.8L489.8 296L506 306.3L507.9 304.8L511 306.9L510 309.5L518.5 316.3L522.3 314.4L526 317.5L532.3 326.9L531.6 331.3L529.8 336.8L518.8 347L511 350.1L506 351.3L498.5 356.3L488.5 358.8L484.1 361.3L483.5 356.3L480.4 357.5L479.8 360L473.5 358.8L464.8 355L461 352.5L456 348.1L452.3 346.9L446.6 342.5L444.8 329.8L435 334.1L430 331L420 324.1L411.9 321L411.9 318.5Z" stroke="#8d8d8d" stroke-width="1.40" fill="#fdfdfd"/>
<path d="M409.4 306L415 317.3L421.9 319.1L428 316.5L435 319.1L435.6 334.1M436.6 319.6L437 333.4M411 307.5L416.5 317.8M435 319.1L450 316L473.5 310.6L494.8 309.4M436 320.6L450.5 317.4L494.1 311.9M451 316.3L451.6 323.8" stroke="#8d8d8d" stroke-width="1.06" fill="none"/>
<path d="M430.6 312.3L441.3 308.5L448.1 311.6L437.5 316ZM433.5 312.3L441 309.7L445 311.6L437.6 314.4ZM412.5 310.4L431.3 309.1M431.3 302.9L432.8 307.9M450.4 305.6L461 301.9L466 302.5L472.3 309.4L477.3 306.9M452 307.6L461.5 303.8M460 286L461.3 299.1M465.6 284.1L465 299.8M446.9 293.5L458.1 288.5M448.5 295L459 290M468.8 295.4L480 301M457 313.5L470 311L474 314L461 317ZM460 314.5L471.5 312.2M462 316L473 313.6M463.5 312.5L466.5 316M467.5 311.7L470.5 315.2M436 310.5L442 314M439 309.5L444.5 312.8" stroke="#8d8d8d" stroke-width="0.95" fill="none"/>
<path d="M474 285L487 296.5L504 308L517 318M475.5 284.5L488 295.5L505 307L518.5 317.6M497.3 308.8L497.9 323.8L501 330L506 333.8L516 338.1L521 338.8L531.6 331.3M495.4 311.9L496 325L489.8 331.3M498.5 310L518.5 317.5M514.8 326.9L528.5 325.6M514.8 326.9L514.8 337.5M501 320L505 322M507 323L511 325.5" stroke="#8d8d8d" stroke-width="1.06" fill="none"/>
<path d="M444.8 326.3L494.8 309.4L497.3 308.8M446 328.1L494.1 311.9M444.8 326.3L446.6 342.5M447.9 328.1L449.1 341.3L469.8 335.6L473.5 336.3M471.6 337.5L476 336.3L479.1 338.1L485.4 337.5L486 335.6L483.5 334.4L488.5 333.1M481.6 320.6L487.3 326.9L487.9 332.5M487.3 326.9L496 323.8M449.1 343.1L464.8 339M469.8 340L486 349.4M473.5 339.4L489.8 348.1M464.8 343.8L479.8 353.1M452.3 345.6L461 343.5M483.5 355L491 349.4L494.8 345.6L504.8 343.1L507.3 345L506 351.3M486 356.9L492.9 351.3L497.3 347.5L506 345.6M507.3 345L516 340M456 348.1L470 353L480.4 357.5M518.8 347L517 342.5L529 333" stroke="#8d8d8d" stroke-width="1.06" fill="none"/>
<path d="M507.3 285.6L497.1 290.9" stroke="#8e8e8e" stroke-width="1.4" fill="none" stroke-linecap="butt"/>
<path d="M492.4 293.4L496.7 287.4L497.1 290.9L499.8 293.3Z" fill="#8e8e8e"/>
<path d="M377.3 419.3L432.8 399.8L442.5 396.8L456 392.3L459 394.5L458.7 397.8L444 402L378.8 423.3Z" stroke="#8d8d8d" stroke-width="1.34" fill="#fdfdfd"/>
<path d="M379.5 420.2L455.5 394.4M379 422.3L385 417M397 412.8L406 411.5L406.8 409.6L398.5 410.5ZM392 413L392.6 415.6M410 408.2L419 405.2M419 403L425 404.5L430 401.5L424 400.5ZM421 404L427.5 400.8M433 399.8L433.8 402.8M437 398.6L437.8 401.6M443 397L449.5 397.8L452.5 395.6L451.5 393.8M443 397L443.6 400.5L450 399.5L449.5 397.8M454.5 393L455.3 396.8" stroke="#8d8d8d" stroke-width="0.90" fill="none"/>
<path d="M379 422.3L432 403.5L444 400.8" stroke="#8d8d8d" stroke-width="0.90" fill="none"/>
<path d="M476.1 395.3L465.1 395.3" stroke="#8e8e8e" stroke-width="1.4" fill="none" stroke-linecap="butt"/>
<path d="M459.8 395.3L466.4 392.0L465.1 395.3L466.4 398.6Z" fill="#8e8e8e"/>
<path d="M433.4 429.5L442.7 424.6L446.4 425.1L452.4 431.1L452.4 434.8L442.0 439.0L433.7 436.6Z" stroke="#8d8d8d" stroke-width="1.34" fill="#fff"/>
<path d="M433.4 429.5L442.0 433.0L452.4 431.1M442.0 433.0L442.0 439.0M438.9 426.6L443.9 428.6L446.4 425.1M443.9 428.6L442.0 433.0M438.9 426.6L437.9 431.2M435.4 431.4L436.0 437.0M437.4 432.2L438.0 437.6M439.4 432.8L439.8 438.2" stroke="#8d8d8d" stroke-width="0.90" fill="none"/>
<path d="M533.7 391.7L543.0 386.8L546.7 387.3L552.7 393.3L552.7 397.0L542.3 401.2L534.0 398.8Z" stroke="#8d8d8d" stroke-width="1.34" fill="#fff"/>
<path d="M533.7 391.7L542.3 395.2L552.7 393.3M542.3 395.2L542.3 401.2M539.2 388.8L544.2 390.8L546.7 387.3M544.2 390.8L542.3 395.2M539.2 388.8L538.2 393.4M535.7 393.6L536.3 399.2M537.7 394.4L538.3 399.8M539.7 395.0L540.1 400.4" stroke="#8d8d8d" stroke-width="0.90" fill="none"/>
<path d="M469.3 431.0L458.7 431.0" stroke="#8e8e8e" stroke-width="1.4" fill="none" stroke-linecap="butt"/>
<path d="M453.4 431.0L460.0 427.7L458.7 431.0L460.0 434.3Z" fill="#8e8e8e"/>
<path d="M570.0 395.2L559.0 395.2" stroke="#8e8e8e" stroke-width="1.4" fill="none" stroke-linecap="butt"/>
<path d="M553.7 395.2L560.3 391.9L559.0 395.2L560.3 398.5Z" fill="#8e8e8e"/>
<path d="M510.8 367.8L522 362.5L543 355.8L546 354.3L552 353.5L555.8 355.8L555.8 360.3L549 363.3L515.3 374.8L511.2 373.8Z" stroke="#8d8d8d" stroke-width="1.34" fill="#fdfdfd"/>
<path d="M510.8 367.8L515.3 369.3L522 366.5L527 367.5L549 358.8L555.8 355.8M515.3 369.3L515.3 374.8M522 362.5L524.5 364.5L522 366.5M527 367.5L525.5 364L540 359L544.5 356.5M532 363L541 362L544 360M530 364.5L538 360.5M543 355.8L546.5 361.5M546 354.3L550 361M549.5 354L552.5 359.6M552 353.5L554.5 358" stroke="#8d8d8d" stroke-width="0.90" fill="none"/>
<path d="M573.0 356.8L562.3 356.8" stroke="#8e8e8e" stroke-width="1.4" fill="none" stroke-linecap="butt"/>
<path d="M557.0 356.8L563.6 353.5L562.3 356.8L563.6 360.1Z" fill="#8e8e8e"/>
</svg>
<div class="banner"><div style="left:124.2px;top:3.8px">Part or sub-assembly is #3 in diagram</div><div style="left:93.8px;top:24.9px">Diagram may not be specific to your vehicle</div></div>
</body></html>
